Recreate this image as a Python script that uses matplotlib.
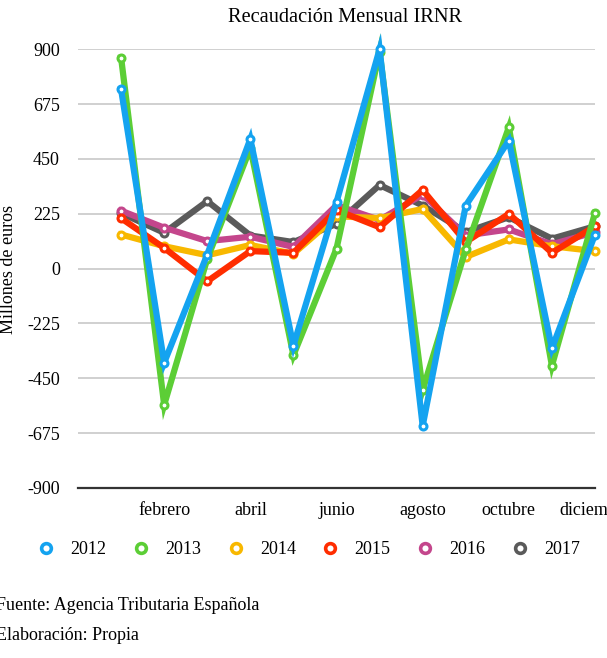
import numpy as np
import matplotlib.pyplot as plt
from matplotlib.lines import Line2D

plt.rcParams['font.family'] = ['Liberation Serif', 'DejaVu Serif']

# months 1..12, labels shown every second month
months = np.arange(1, 13)
tick_months = [2, 4, 6, 8, 10, 12]
tick_labels = ["febrero", "abril", "junio", "agosto", "octubre", "diciembre"]

years = ["2012", "2013", "2014", "2015", "2016", "2017"]
colors = ["#14a3f0", "#5cce36", "#f8b800", "#ff2d00", "#c4468c", "#5a5a5a"]

v2012 = [736, -386, 58, 532, -316, 273, 900, -645, 259, 525, -327, 140]
v2013 = [866, -559, 40, 495, -355, 82, 890, -498, 79, 580, -398, 229]
v2014 = [140, 92, 55, 97, 61, 215, 207, 245, 48, 120, 92, 72]
v2015 = [207, 85, -52, 72, 65, 240, 170, 323, 109, 225, 65, 174]
v2016 = [238, 168, 113, 131, 89, 260, 200, 304, 136, 161, 100, 150]
v2017 = [228, 147, 277, 136, 109, 184, 343, 259, 150, 211, 123, 174]
series = [v2012, v2013, v2014, v2015, v2016, v2017]

fs = 13

fig = plt.figure(figsize=(6.07, 6.58), dpi=100)
ax = fig.add_axes([78 / 607, 1 - 488 / 658, (595 - 78) / 607, (488 - 49.3) / 658])

# draw order: grey first, blue last (on top)
order = [5, 4, 2, 3, 1, 0]
for i in order:
    ax.plot(months, series[i], color=colors[i], lw=4.5, solid_joinstyle='miter',
            marker='o', markersize=5, markerfacecolor='white',
            markeredgecolor=colors[i], markeredgewidth=2.2,
            clip_on=False, zorder=3 + order.index(i))

ax.set_xlim(0, 12)
ax.set_ylim(-900, 900)
ax.set_yticks([-900, -675, -450, -225, 0, 225, 450, 675, 900])
ax.set_yticklabels(["-900", "-675", "-450", "-225", "0", "225", "450", "675", "900"])
ax.set_xticks(tick_months)
ax.set_xticklabels(tick_labels)
ax.tick_params(axis='both', length=0, labelsize=fs)
ax.tick_params(axis='y', pad=13)
ax.tick_params(axis='x', pad=10)
ax.grid(axis='y', color='#c4c4c4', lw=1.1)
ax.set_axisbelow(True)
for s in ['top', 'right', 'left']:
    ax.spines[s].set_visible(False)
ax.spines['bottom'].set_color('#333333')
ax.spines['bottom'].set_linewidth(1.6)
ax.spines['bottom'].set_zorder(2)

fig.text(9 / 607, 1 - 270 / 658, "Millones de euros", rotation=90,
         ha='center', va='center', fontsize=fs)
fig.text(345 / 607, 1 - 18 / 658, "Recaudación Mensual IRNR",
         ha='center', va='center', fontsize=14.7)

handles = [Line2D([], [], ls='none', marker='o', markersize=7,
                  markerfacecolor='white', markeredgecolor=c,
                  markeredgewidth=2.6) for c in colors]
fig.legend(handles, years, loc='center', bbox_to_anchor=(308 / 607, 1 - 550 / 658),
           ncol=6, frameon=False, fontsize=fs, handlelength=1.1,
           handletextpad=0.8, columnspacing=1.35)

fig.text(-4 / 607, 1 - 606 / 658, "Fuente: Agencia Tributaria Española",
         ha='left', va='center', fontsize=fs)
fig.text(-4 / 607, 1 - 636 / 658, "Elaboración: Propia",
         ha='left', va='center', fontsize=fs)

fig.savefig("out.png", dpi=100)
